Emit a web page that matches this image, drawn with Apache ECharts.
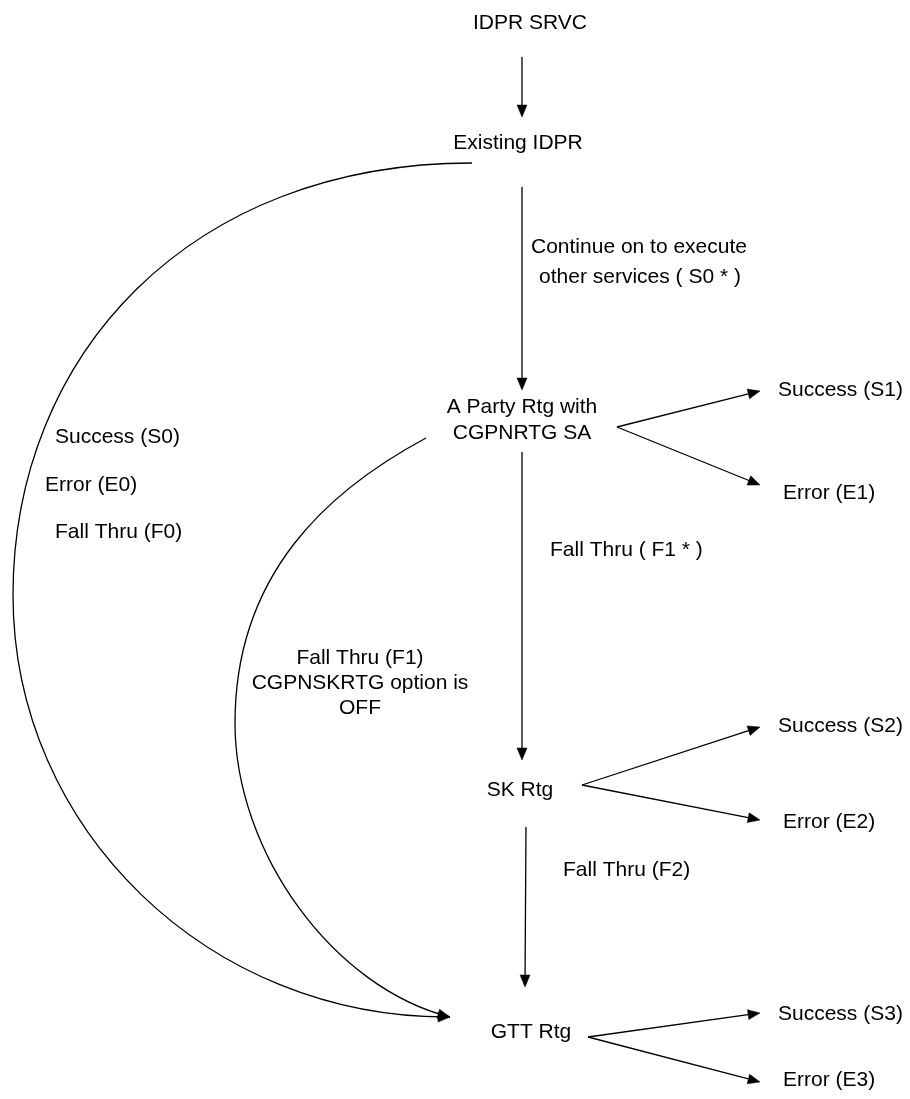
<!DOCTYPE html>
<html><head><meta charset="utf-8">
<script src="https://cdn.jsdelivr.net/npm/echarts@6/dist/echarts.min.js"></script>
<style>html,body{margin:0;padding:0;background:#fff}#c{width:910px;height:1099px}</style>
</head><body><div id="c"></div>
<script>
// ---- diagram content (diagram coordinates: x 0..910, y 0..1099 downward) ----
const labelTexts = ['IDPR SRVC','Existing IDPR','Continue on to execute','other services ( S0 * )',
  'A Party Rtg with','CGPNRTG SA','Success (S1)','Error (E1)',
  'Success (S0)','Error (E0)','Fall Thru (F0)','Fall Thru ( F1 * )',
  'Fall Thru (F1)','CGPNSKRTG option is','OFF','SK Rtg','Success (S2)','Error (E2)',
  'Fall Thru (F2)','GTT Rtg','Success (S3)','Error (E3)'];
const labelX = [530,518,639,640,522,522,778,783,55,45,55,550,360,360,360,520,778,783,563,531,778,783];
const labelY = [23,143,247,277,407,433,390,493,437,485,532,550,658,683,708,790,726,822,870,1032,1014,1080];
const labelAnchor = ['center','center','center','center','center','center','left','left',
  'left','left','left','left','center','center','center','center','left','left','left','center','left','left'];

// straight flow arrows: start point -> arrow tip
const arrowFrom = [[522,57],[522,187],[617,427],[617,427],[522,452],[582,785],[582,785],[526,827],[588,1037],[588,1037]];
const arrowTo   = [[522,117],[522,390],[760,391],[760,485],[522,760],[760,727],[760,820],[525,987],[760,1013],[760,1082]];

// curved flow arrows as cubic segments: [x0,y0, c1x,c1y, c2x,c2y, x3,y3, arrowAtEnd]
const curveSegments = [
  [472,163, 190,163, 13,355, 13,595, 0],      // Existing IDPR -> GTT Rtg (outer arc), upper half
  [13,595, 13,830, 210,1019, 450,1017, 1],    // outer arc, lower half
  [426,438, 329,490, 235,573, 235,723, 0],    // A Party Rtg -> GTT Rtg (inner arc), upper half
  [235,723, 235,853, 334,988, 450,1017, 1]    // inner arc, lower half
];

const FONT = '21px "Liberation Sans", Arial, sans-serif';
const INK = '#000';

function headPoints(tip, from, len, wid) {
  const dx = tip[0] - from[0], dy = tip[1] - from[1];
  const d = Math.hypot(dx, dy) || 1;
  const ux = dx / d, uy = dy / d;
  const bx = tip[0] - ux * len, by = tip[1] - uy * len;
  return { base: [bx, by], pts: [[tip[0], tip[1]], [bx - uy * wid / 2, by + ux * wid / 2], [bx + uy * wid / 2, by - ux * wid / 2]] };
}

const chart = echarts.init(document.getElementById('c'), null, { renderer: 'canvas' });
chart.setOption({
  animation: false,
  backgroundColor: '#fff',
  grid: { left: 0, right: 0, top: 0, bottom: 0 },
  xAxis: { type: 'value', min: 0, max: 910, show: false },
  yAxis: { type: 'value', min: 0, max: 1099, inverse: true, show: false },
  series: [
    {
      type: 'custom', coordinateSystem: 'cartesian2d', silent: true,
      data: arrowFrom.map((f, i) => [f[0], f[1], arrowTo[i][0], arrowTo[i][1]]),
      encode: { x: [0, 2], y: [1, 3] },
      renderItem: function (params, api) {
        const p0 = api.coord([api.value(0), api.value(1)]);
        const p1 = api.coord([api.value(2), api.value(3)]);
        const h = headPoints(p1, p0, 12, 10);
        return { type: 'group', children: [
          { type: 'line', shape: { x1: p0[0], y1: p0[1], x2: h.base[0], y2: h.base[1] },
            style: { stroke: INK, lineWidth: 1.3, fill: 'none' } },
          { type: 'polygon', shape: { points: h.pts }, style: { fill: INK, stroke: INK, lineWidth: 0.5 } }
        ]};
      }
    },
    {
      type: 'custom', coordinateSystem: 'cartesian2d', silent: true,
      data: curveSegments,
      encode: { x: [0, 6], y: [1, 7] },
      renderItem: function (params, api) {
        const P = [0, 2, 4, 6].map(k => api.coord([api.value(k), api.value(k + 1)]));
        const children = [{
          type: 'bezierCurve',
          shape: { x1: P[0][0], y1: P[0][1], cpx1: P[1][0], cpy1: P[1][1], cpx2: P[2][0], cpy2: P[2][1], x2: P[3][0], y2: P[3][1] },
          style: { stroke: INK, lineWidth: 1.3, fill: 'none' }
        }];
        if (api.value(8)) {
          const h = headPoints(P[3], P[2], 12, 10);
          children.push({ type: 'polygon', shape: { points: h.pts }, style: { fill: INK, stroke: INK, lineWidth: 0.5 } });
        }
        return { type: 'group', children: children };
      }
    },
    {
      type: 'custom', coordinateSystem: 'cartesian2d', silent: true,
      data: labelX.map((x, i) => [x, labelY[i], i]),
      encode: { x: 0, y: 1 },
      renderItem: function (params, api) {
        const i = api.value(2);
        const p = api.coord([api.value(0), api.value(1)]);
        return { type: 'text', x: p[0], y: p[1],
          style: { text: labelTexts[i], font: FONT, fill: INK, align: labelAnchor[i], verticalAlign: 'middle' } };
      }
    }
  ]
});
</script></body></html>
